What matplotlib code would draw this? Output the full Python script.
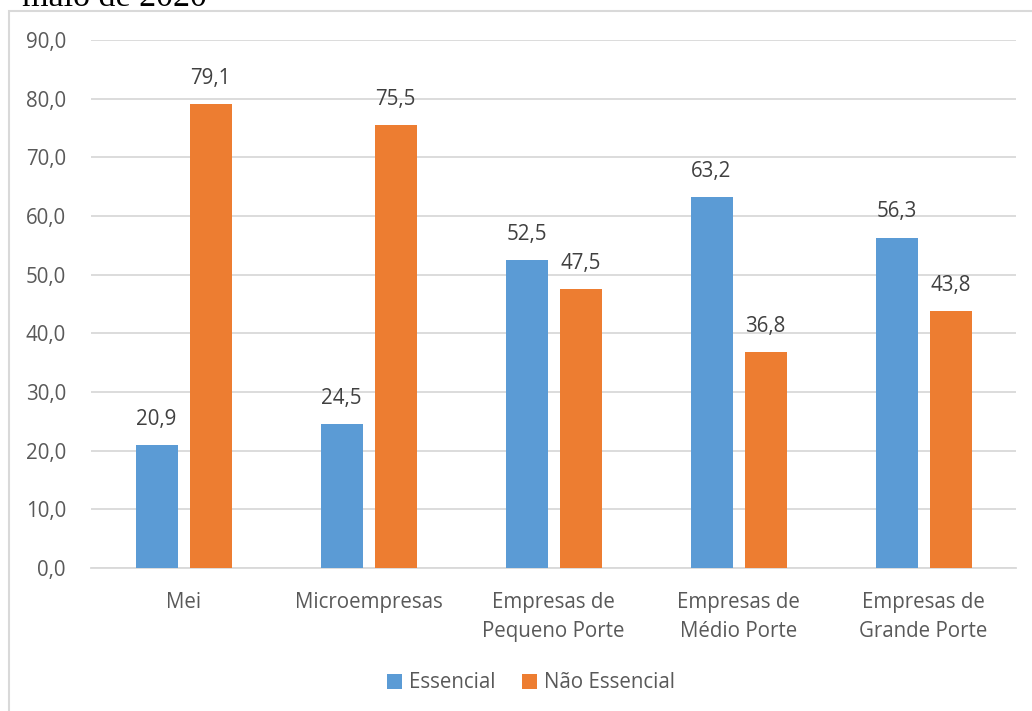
import numpy as np
import matplotlib
matplotlib.use("Agg")
from matplotlib import pyplot as plt
from matplotlib.patches import Rectangle

# data
categorias = ['Mei', 'Microempresas', 'Empresas de\nPequeno Porte',
              'Empresas de\nMédio Porte', 'Empresas de\nGrande Porte']
essencial = [20.9, 24.5, 52.5, 63.2, 56.3]
nao_essencial = [79.1, 75.5, 47.5, 36.8, 43.8]
yticks = [0, 10, 20, 30, 40, 50, 60, 70, 80, 90]

azul = '#5b9bd5'
laranja = '#ed7d31'
cinza_txt = '#595959'
fs = 14.8

plt.rcParams['font.family'] = ['Open Sans', 'DejaVu Sans']

fig = plt.figure(figsize=(10.32, 7.11), dpi=100)
ax = fig.add_axes([91/1032, 1 - 568/711, 925/1032, 528/711])

# outer chart border (cut off at right/bottom like the source)
fig.patches.append(Rectangle((9/1032, -0.05), 1.2, 1 - 11/711 + 0.05,
                             transform=fig.transFigure, fill=False,
                             edgecolor='#d9d9d9', linewidth=1.5))
# caption text cut at the top (as in the source image)
fig.text(22/1032, 1 - 6/711, 'maio de 2020', family='Liberation Serif',
         fontsize=24.5, color='black', va='baseline', ha='left')

x = np.arange(len(categorias))
w = 42/185
gap = 12/185
b1 = ax.bar(x - (w + gap)/2, essencial, w, color=azul, label='Essencial', zorder=3)
b2 = ax.bar(x + (w + gap)/2, nao_essencial, w, color=laranja, label='Não Essencial', zorder=3)

for bars, vals in [(b1, essencial), (b2, nao_essencial)]:
    for r, v in zip(bars, vals):
        ax.annotate(('%.1f' % v).replace('.', ','),
                    (r.get_x() + r.get_width()/2, v),
                    xytext=(0, 11), textcoords='offset points',
                    ha='center', va='bottom', fontsize=fs, color='#404040')

ax.set_xlim(-0.5, len(categorias) - 0.5)
ax.set_ylim(0, 90)
ax.set_yticks(yticks)
ax.set_yticklabels([('%.1f' % t).replace('.', ',') for t in yticks])
ax.set_xticks(x)
ax.set_xticklabels(categorias, linespacing=1.55)
ax.tick_params(axis='both', length=0, labelsize=fs, labelcolor=cinza_txt)
ax.tick_params(axis='y', pad=18)
ax.tick_params(axis='x', pad=17)
ax.yaxis.grid(True, color='#d9d9d9', linewidth=1.3, zorder=0)
ax.set_axisbelow(True)
for s in ['top', 'right', 'left']:
    ax.spines[s].set_visible(False)
ax.spines['bottom'].set_color('#d9d9d9')
ax.spines['bottom'].set_linewidth(1.3)

leg = fig.legend(handles=[b1, b2], loc='center', bbox_to_anchor=(531/1032, 1 - 683/711),
                 ncol=2, frameon=False, fontsize=fs, handlelength=0.7, handleheight=0.7,
                 handletextpad=0.35, columnspacing=1.3)
for t in leg.get_texts():
    t.set_color(cinza_txt)

fig.savefig('out.png', dpi=100)
